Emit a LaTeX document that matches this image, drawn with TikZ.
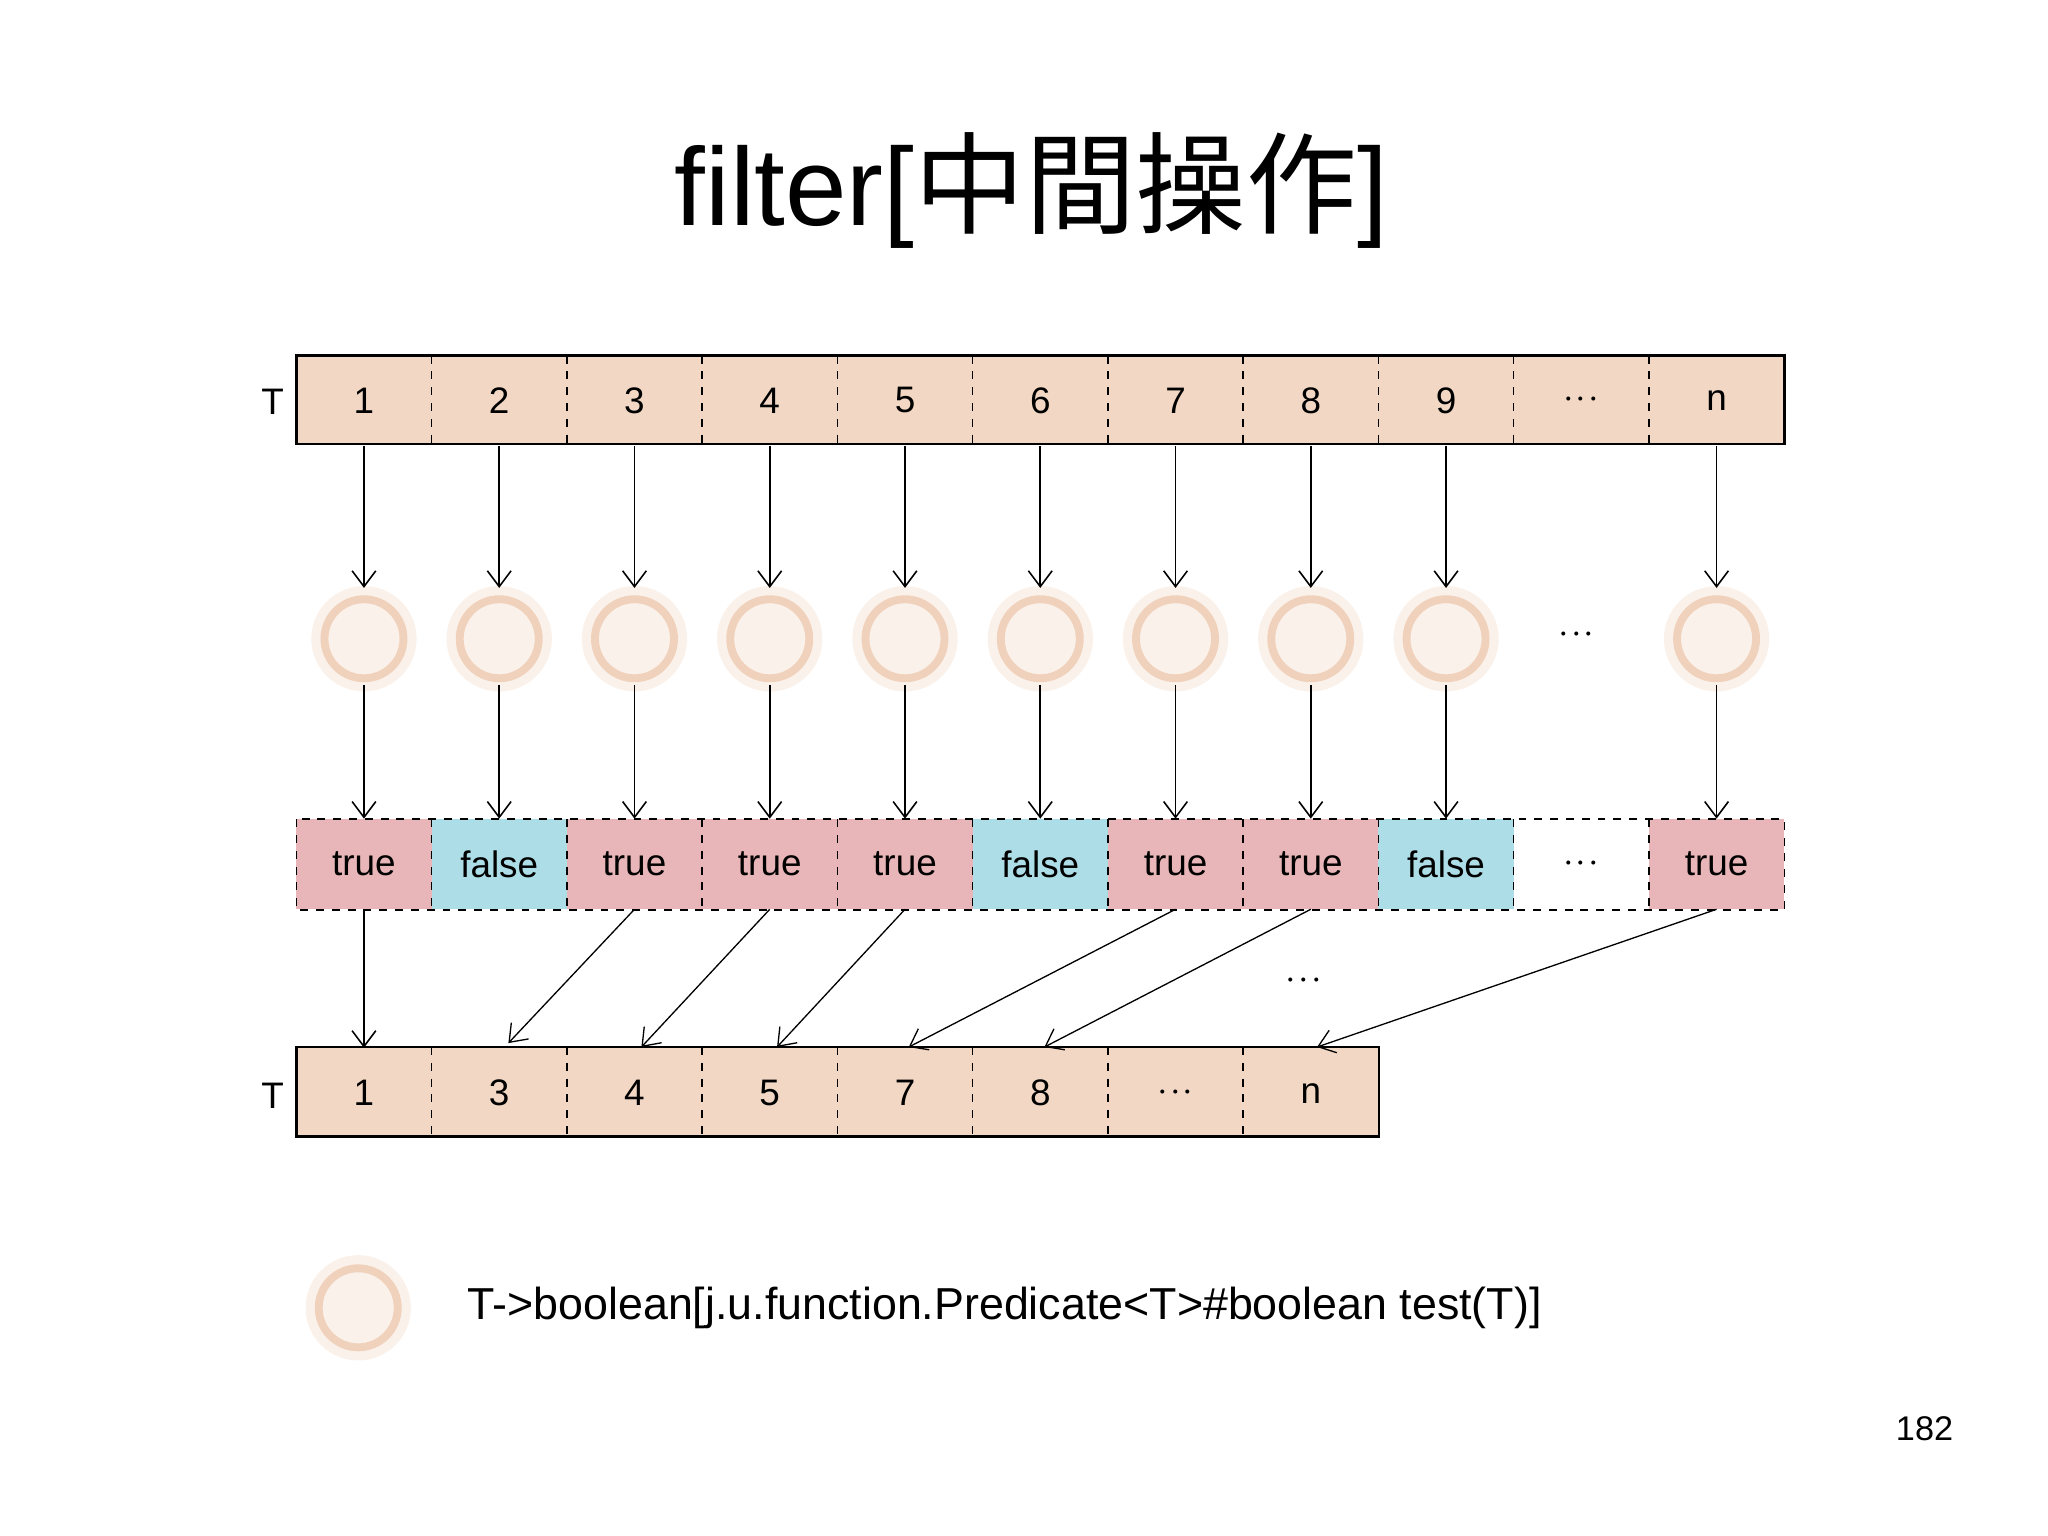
\documentclass[tikz,border=0pt]{standalone}
\usepackage{fontspec}
\setmainfont{Liberation Sans}
\newfontfamily\cjk{Noto Sans CJK JP}
\usetikzlibrary{arrows.meta}
\definecolor{peach}{HTML}{F2D8C4}
\definecolor{ring}{HTML}{F0D2BC}
\definecolor{tpink}{HTML}{E8B6B8}
\definecolor{fblue}{HTML}{ADDDE6}
\begin{document}
\begin{tikzpicture}[x=0.5pt,y=-0.5pt,
  cell/.style={minimum width=51.35pt,minimum height=34pt,inner sep=0pt,font=\fontsize{14}{14}\selectfont},
  arr/.style={-{Straight Barb[length=6pt,width=9pt]},line width=0.6pt},
  darr/.style={-{Straight Barb[length=6pt,width=9pt]},line width=0.5pt},
  pred/.style={circle,minimum size=30pt,inner sep=0pt,draw=ring,line width=3pt},
  glow/.style={fill=peach,fill opacity=0.35,circle,inner sep=0pt,minimum size=40pt}]
\useasboundingbox (0,0) rectangle (1555,1166);
\node[font=\fontsize{42}{42}\selectfont] (title) at (783,145) {filter[{\cjk 中間操作}]};
% top row
\fill[peach] (225,270) rectangle (1355,337);
\foreach \l [count=\i] in {1,2,3,4,5,6,7,8,9,{$\cdot\!\cdot\!\cdot$},n}{
  \node[cell] (t\i) at ({225+102.7*(\i-0.5)},304) {\l};
}
\draw[line width=0.9pt] (225,337) -- (225,270) -- (1355,270) -- (1355,337) -- cycle;
\foreach \i in {1,...,10} \draw[dashed,line width=0.6pt] ({225+102.7*\i},270) -- ({225+102.7*\i},337);
\node[font=\fontsize{14}{14}\selectfont] (tl1) at (207,305) {T};
% middle row
\foreach \l/\c [count=\i] in {true/tpink,false/fblue,true/tpink,true/tpink,true/tpink,false/fblue,true/tpink,true/tpink,false/fblue,{$\cdot\!\cdot\!\cdot$}/white,true/tpink}{
  \node[cell,fill=\c] (m\i) at ({225+102.7*(\i-0.5)},656) {\l};
}
\draw[dashed,line width=0.6pt] (225,622) rectangle (1355,691);
\foreach \i in {1,...,10} \draw[dashed,line width=0.6pt] ({225+102.7*\i},622) -- ({225+102.7*\i},691);
% circles
\foreach \i in {1,...,9,11}{
  \node[glow] at (t\i |- 0,485) {};
  \node[pred] (c\i) at (t\i |- 0,485) {};
  \draw[arr] (t\i.south) -- ++(0,108);
  \draw[arr] (c\i.south) ++(0,2) -- (m\i.north);
}
\node[font=\fontsize{14}{14}\selectfont] (cd) at (1197,482) {$\cdot\!\cdot\!\cdot$};
% bottom row
\fill[peach] (225,795) rectangle (1047,863);
\foreach \l [count=\i] in {1,3,4,5,7,8,{$\cdot\!\cdot\!\cdot$},n}{
  \node[cell] (b\i) at ({225+102.7*(\i-0.5)},830) {\l};
}
\draw[line width=0.9pt] (225,863) -- (225,795) -- (1047,795) -- (1047,863) -- cycle;
\foreach \i in {1,...,7} \draw[dashed,line width=0.6pt] ({225+102.7*\i},795) -- ({225+102.7*\i},863);
\node[font=\fontsize{14}{14}\selectfont] (tl2) at (207,832) {T};
% filter arrows
\draw[arr] (m1.south) -- (b1.north);
\coordinate (e2) at (386,792); \coordinate (e3) at (487,795); \coordinate (e4) at (590,795);
\coordinate (e5) at (690,795); \coordinate (e6) at (793,795); \coordinate (e8) at (1000,795);
\draw[darr] (m3.south) -- (e2);
\draw[darr] (m4.south) -- (e3);
\draw[darr] (m5.south) -- (e4);
\draw[darr] (m7.south) -- (e5);
\draw[darr] (m8.south) -- (e6);
\draw[darr] (m11.south) -- (e8);
\node[font=\fontsize{14}{14}\selectfont] (bd) at (990,745) {$\cdot\!\cdot\!\cdot$};
% legend
\node[glow] at (272,993) {};
\node[pred] (lc) at (272,993) {};
\node[anchor=west,font=\fontsize{17}{17}\selectfont] (lt) at (348,993) {T->boolean[j.u.function.Predicate<T>\#boolean test(T)]};
\node[anchor=east,font=\fontsize{13}{13}\selectfont] (pg) at (1490,1085) {182};
\end{tikzpicture}
\end{document}
